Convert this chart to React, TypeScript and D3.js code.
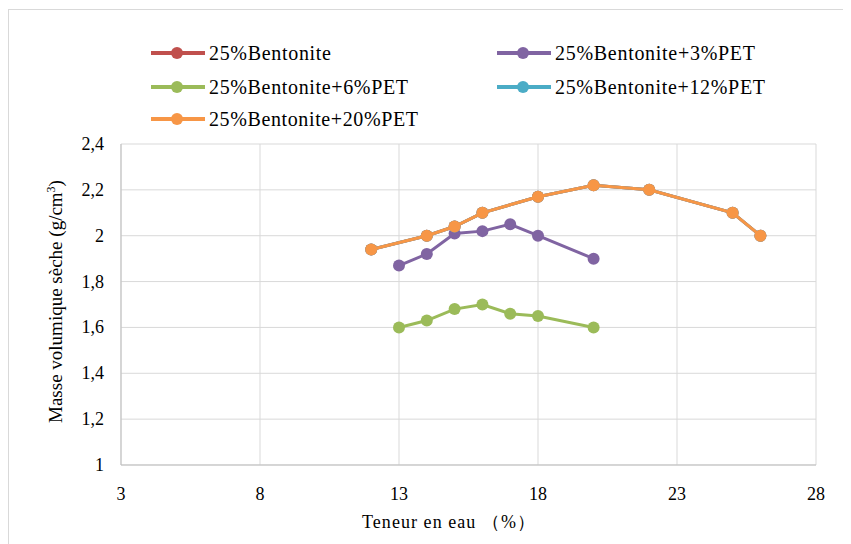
import React from "react";
import * as d3 from "d3";

const seriesNames = [
  "25%Bentonite",
  "25%Bentonite+3%PET",
  "25%Bentonite+6%PET",
  "25%Bentonite+12%PET",
  "25%Bentonite+20%PET",
];
const seriesColors = ["#C0504D", "#8064A2", "#9BBB59", "#4BACC6", "#F79646"];

const xBent = [12, 14, 15, 16, 18, 20, 22, 25, 26];
const yBent = [1.94, 2.0, 2.04, 2.1, 2.17, 2.22, 2.2, 2.1, 2.0];
const xPet3 = [13, 14, 15, 16, 17, 18, 20];
const yPet3 = [1.87, 1.92, 2.01, 2.02, 2.05, 2.0, 1.9];
const xPet6 = [13, 14, 15, 16, 17, 18, 20];
const yPet6 = [1.6, 1.63, 1.68, 1.7, 1.66, 1.65, 1.6];
const xPet12 = [12, 14, 15, 16, 18, 20, 22, 25, 26];
const yPet12 = [1.94, 2.0, 2.04, 2.1, 2.17, 2.22, 2.2, 2.1, 2.0];
const xPet20 = [12, 14, 15, 16, 18, 20, 22, 25, 26];
const yPet20 = [1.94, 2.0, 2.04, 2.1, 2.17, 2.22, 2.2, 2.1, 2.0];

const xTicks = [3, 8, 13, 18, 23, 28];
const yTicks = [1, 1.2, 1.4, 1.6, 1.8, 2, 2.2, 2.4];

const W = 843;
const H = 536;
const left = 113, right = 808, top = 136, bottom = 457;
const font = "'Times New Roman', Tinos, 'Liberation Serif', 'DejaVu Serif', 'Noto Serif', serif";

export default function App() {
  const x = d3.scaleLinear().domain([3, 28]).range([left, right]);
  const y = d3.scaleLinear().domain([1, 2.4]).range([bottom, top]);
  const data = [
    xBent.map((v, i) => [v, yBent[i]]),
    xPet3.map((v, i) => [v, yPet3[i]]),
    xPet6.map((v, i) => [v, yPet6[i]]),
    xPet12.map((v, i) => [v, yPet12[i]]),
    xPet20.map((v, i) => [v, yPet20[i]]),
  ];
  const line = d3.line<number[]>().x((d) => x(d[0])).y((d) => y(d[1]));
  const fmt = (v: number) => String(+v.toFixed(1)).replace(".", ",");

  // legend: [line start x, row center y, text length]
  const legendPos = [
    [143, 45, 122],
    [489, 45, 200],
    [143, 79, 199],
    [489, 79, 210],
    [143, 111, 209],
  ];

  return (
    <svg width={W} height={H} style={{ display: "block", fontFamily: font }}>
      <rect x={0.5} y={1.5} width={W + 20} height={H + 20} fill="white" stroke="#d9d9d9" />
      {yTicks.map((t) => (
        <line key={"gy" + t} x1={left} x2={right} y1={y(t)} y2={y(t)} stroke="#d9d9d9" strokeWidth={1} />
      ))}
      {xTicks.map((t) => (
        <line key={"gx" + t} x1={x(t)} x2={x(t)} y1={top} y2={bottom} stroke="#d9d9d9" strokeWidth={1} />
      ))}
      <line x1={left} x2={left} y1={top} y2={bottom} stroke="#bfbfbf" strokeWidth={1} />
      <line x1={left} x2={right} y1={bottom} y2={bottom} stroke="#bfbfbf" strokeWidth={1} />
      {yTicks.map((t) => (
        <text key={"ly" + t} x={left - 17} y={y(t) + 6} textAnchor="end" fontSize={18} fill="#000" style={{ fontFamily: font }}>
          {fmt(t)}
        </text>
      ))}
      {xTicks.map((t) => (
        <text key={"lx" + t} x={x(t)} y={bottom + 35} textAnchor="middle" fontSize={18} fill="#000" style={{ fontFamily: font }}>
          {t}
        </text>
      ))}
      <text x={354} y={520} fontSize={18} fill="#000" textLength={173} lengthAdjust="spacing" style={{ fontFamily: font }}>
        Teneur en eau （%）
      </text>
      <text transform={`translate(54,${(top + bottom) / 2 - 3}) rotate(-90)`} textAnchor="middle" fontSize={19} fill="#000" style={{ fontFamily: font }}>
        Masse volumique sèche  (g/cm<tspan dy={-7} fontSize={12}>3</tspan><tspan dy={7}>)</tspan>
      </text>
      {data.map((d, i) => (
        <g key={"s" + i}>
          <path d={line(d) || ""} fill="none" stroke={seriesColors[i]} strokeWidth={3} />
          {d.map((p, j) => (
            <circle key={j} cx={x(p[0])} cy={y(p[1])} r={6} fill={seriesColors[i]} />
          ))}
        </g>
      ))}
      {seriesNames.map((n, i) => {
        const [lx, ly, tl] = legendPos[i];
        return (
          <g key={"lg" + i}>
            <line x1={lx} x2={lx + 54} y1={ly} y2={ly} stroke={seriesColors[i]} strokeWidth={4} />
            <circle cx={lx + 26} cy={ly} r={6} fill={seriesColors[i]} />
            <text x={lx + 58} y={ly + 7} fontSize={20} fill="#000" textLength={tl} lengthAdjust="spacing" style={{ fontFamily: font }}>{n}</text>
          </g>
        );
      })}
    </svg>
  );
}
